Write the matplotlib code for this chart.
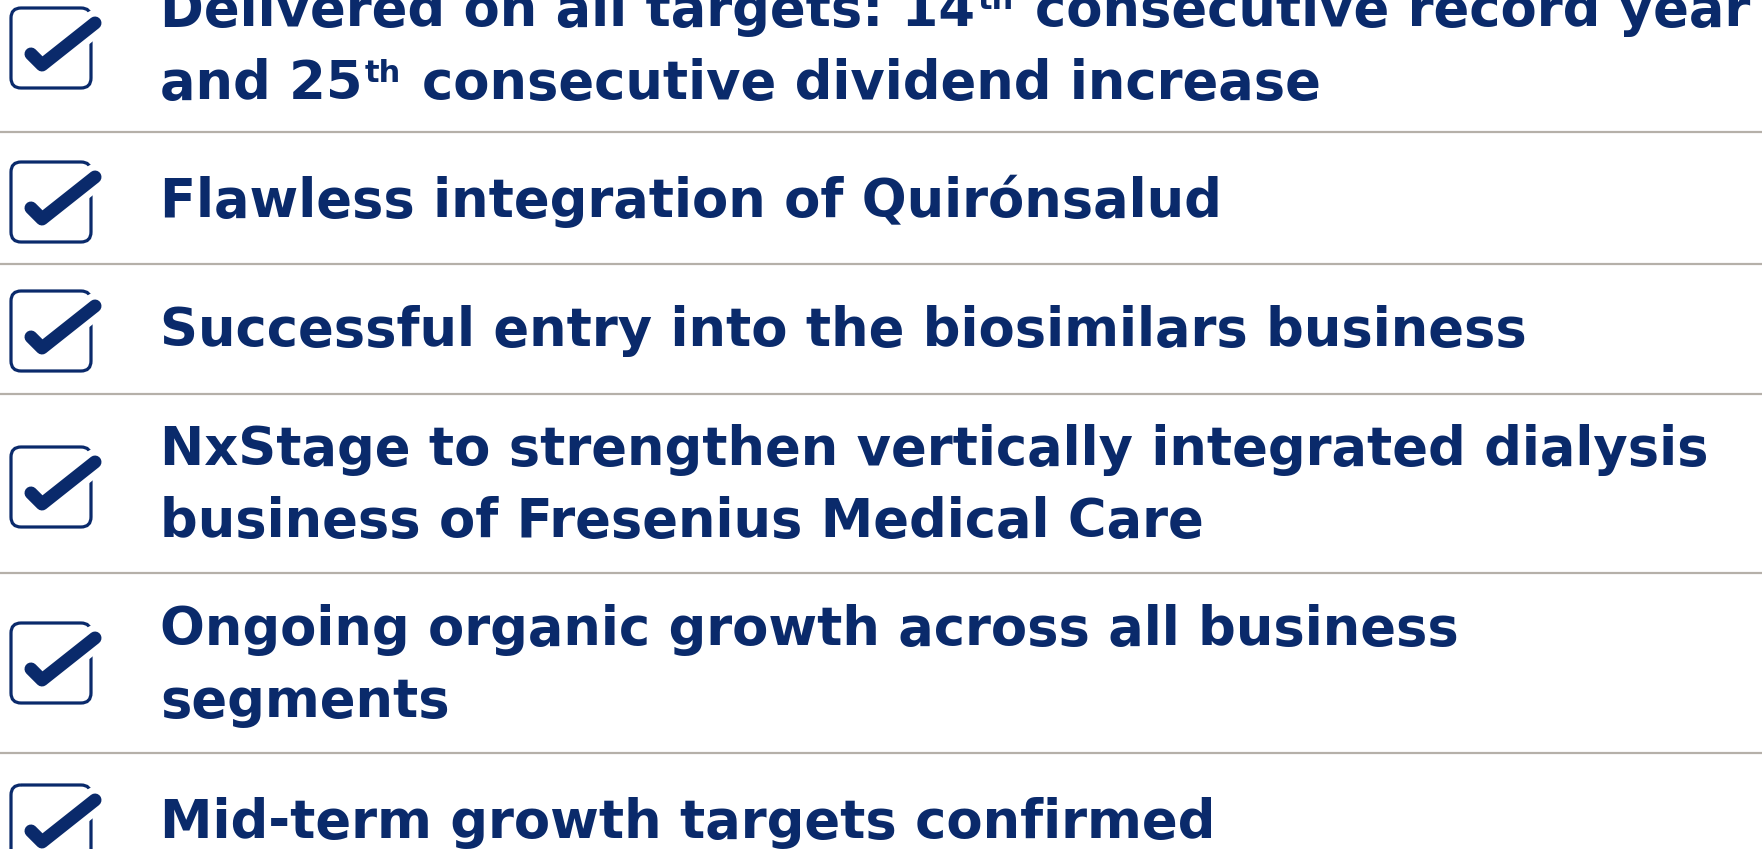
import matplotlib
matplotlib.use("Agg")
import matplotlib.pyplot as plt
from matplotlib.patches import FancyBboxPatch
from matplotlib.font_manager import FontProperties

# ---------------- data ----------------
# each line is a list of (text, is_superscript) pieces
item_lines = [
    [[("Delivered on all targets: 14", False), ("th", True),
      (" consecutive record year", False)],
     [("and 25", False), ("th", True),
      (" consecutive dividend increase", False)]],
    [[("Flawless integration of Quirónsalud", False)]],
    [[("Successful entry into the biosimilars business", False)]],
    [[("NxStage to strengthen vertically integrated dialysis", False)],
     [("business of Fresenius Medical Care", False)]],
    [[("Ongoing organic growth across all business", False)],
     [("segments", False)]],
    [[("Mid-term growth targets confirmed", False)]],
]

# ---------------- layout (pixels) ----------------
W, H = 1762, 849
baselines = [[26, 99], [217], [346], [465, 537], [645, 717], [838]]
box_top = [8, 162, 291, 447, 623, 785]
separators_y = [132, 264, 394, 573, 753]
text_x = 160
font_px = 52.7
sup_scale = 0.58
sup_rise = 17.0
box_x, box_size, box_r = 11, 80, 10

NAVY = "#0A2A6B"
GREY = "#B5B0A9"
PX = 0.72  # points per pixel at dpi 100

fig = plt.figure(figsize=(W / 100, H / 100), dpi=100)
ax = fig.add_axes([0, 0, 1, 1])
ax.set_xlim(0, W)
ax.set_ylim(H, 0)
ax.axis("off")
renderer = fig.canvas.get_renderer()

fp = FontProperties(family="DejaVu Sans", weight="bold")
space_px = 0.348 * font_px  # DejaVu Sans Bold space advance


def draw_line(x, y, pieces):
    for txt, sup in pieces:
        size = font_px * (sup_scale if sup else 1.0)
        yy = y - (sup_rise if sup else 0.0)
        if txt.startswith(" "):
            x += space_px
            txt = txt.lstrip(" ")
        t = ax.text(x, yy, txt, fontproperties=fp, fontsize=size * PX,
                    color=NAVY, ha="left", va="baseline")
        bb = t.get_window_extent(renderer)
        x = bb.x1 + 2.5


for lines, bls in zip(item_lines, baselines):
    for pieces, b in zip(lines, bls):
        draw_line(text_x, b, pieces)

# separators
for y in separators_y:
    ax.plot([0, W], [y, y], color=GREY, lw=2.2 * PX, solid_capstyle="butt")

# checkboxes
for by in box_top:
    pad = box_r
    box = FancyBboxPatch((box_x + pad, by + pad), box_size - 2 * pad,
                         box_size - 2 * pad,
                         boxstyle=f"round,pad={pad}",
                         fc="none", ec=NAVY, lw=3.2 * PX, zorder=3)
    ax.add_patch(box)
    left = (box_x + 20, by + 46)
    vert = (box_x + 31, by + 57)
    right = (box_x + 84, by + 15)
    ax.plot([vert[0], right[0]], [vert[1], right[1]], color="white",
            lw=26 * PX, solid_capstyle="round", zorder=4)
    ax.plot([left[0], vert[0], right[0]], [left[1], vert[1], right[1]],
            color=NAVY, lw=13 * PX, solid_capstyle="round",
            solid_joinstyle="round", zorder=5)

fig.savefig("out.png", dpi=100, facecolor="white")
